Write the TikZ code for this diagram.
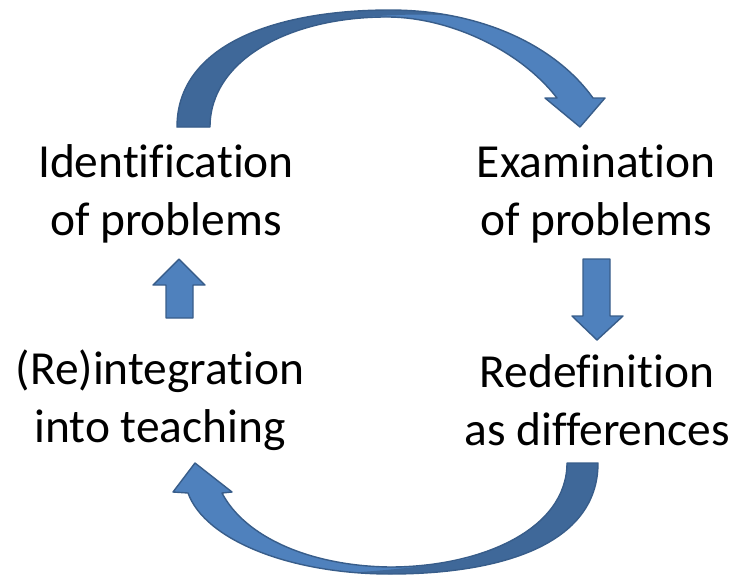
\documentclass[tikz,border=0pt]{standalone}
\usepackage{fontspec}
\setmainfont{Carlito}[Ligatures={NoCommon}]
\definecolor{lightblue}{HTML}{4F81BD}
\definecolor{darkblue}{HTML}{3F6899}
\definecolor{edgeblue}{HTML}{385D8A}
\tikzset{
  lbl/.style={align=center,font=\fontsize{27}{33}\selectfont,inner sep=0pt},
  front/.style={fill=lightblue,draw=edgeblue,line width=0.8pt,line join=round},
  outline/.style={draw=edgeblue,line width=0.8pt,line join=round}
}
\begin{document}
\begin{tikzpicture}[x=0.02cm,y=-0.02cm]
\useasboundingbox (0,0) rectangle (731,576);
% labels
\node[lbl] (ident) at (166,194) {Identification\\of problems};
\node[lbl] (exam) at (596,194) {Examination\\of problems};
\node[lbl] (reint) at (160,400) {(Re)integration\\into teaching};
\node[lbl] (redef) at (597,400) {Redefinition\\as differences};
% top curved arrow
\def\toparrow{(177,127) .. controls (177,45) and (275,10) .. (390,10)
  .. controls (480,10) and (555,45) .. (593,98)
  -- (605,98) -- (580,127) -- (545,98) -- (557,98)
  .. controls (520,50) and (450,18) .. (390,17)
  .. controls (290,16) and (210,60) .. (210,127) -- cycle}
\fill[lightblue] \toparrow;
\begin{scope}
  \clip \toparrow;
  \fill[darkblue] (0,0) -- (500,0) -- (500,20) .. controls (440,12) and (380,13) .. (330,22)
    -- (330,200) -- (0,200) -- cycle;
\end{scope}
\draw[outline] \toparrow;
% bottom curved arrow
\def\botarrow{(598,463) .. controls (598,545) and (500,574) .. (390,574)
  .. controls (290,574) and (205,540) .. (188,493)
  -- (173,492) -- (195,463) -- (232,492) -- (222,493)
  .. controls (245,537) and (310,566) .. (390,567)
  .. controls (480,567) and (567,530) .. (567,463) -- cycle}
\fill[lightblue] \botarrow;
\begin{scope}
  \clip \botarrow;
  \fill[darkblue] (731,576) -- (330,576) -- (330,574) .. controls (380,571) and (430,567) .. (470,558)
    -- (470,440) -- (731,440) -- cycle;
\end{scope}
\draw[outline] \botarrow;
% straight arrows
\path[front] (166,318) -- (166,285) -- (153,285) -- (179,259) -- (205,285)
  -- (193,285) -- (193,318) -- cycle;
\path[front] (583,259) -- (610,259) -- (610,316) -- (623,316) -- (597,340)
  -- (572,316) -- (583,316) -- cycle;
\end{tikzpicture}
\end{document}
